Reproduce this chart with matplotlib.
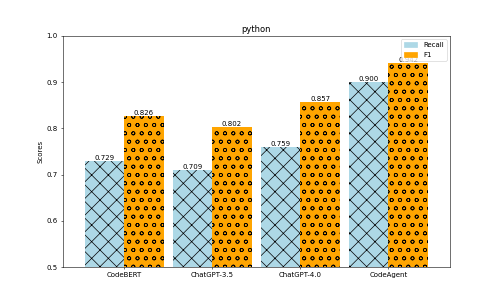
import matplotlib
matplotlib.use("Agg")
import matplotlib.pyplot as plt
import matplotlib.patches as mpatches
import numpy as np

models = ['CodeBERT', 'ChatGPT-3.5', 'ChatGPT-4.0', 'CodeAgent']
recall = [0.729, 0.709, 0.759, 0.900]
f1 = [0.826, 0.802, 0.857, 0.942]

x = np.arange(len(models))
width = 0.45

fig, ax = plt.subplots(figsize=(10, 6), dpi=50)
b1 = ax.bar(x - width / 2, recall, width, color='lightblue',
            edgecolor='black', linewidth=0, hatch='x')
b2 = ax.bar(x + width / 2, f1, width, color='orange',
            edgecolor='black', linewidth=0, hatch='o')

for bars in (b1, b2):
    for bar in bars:
        h = bar.get_height()
        ax.text(bar.get_x() + bar.get_width() / 2, h, f'{h:.3f}',
                ha='center', va='bottom', fontsize=10)

ax.set_ylabel('Scores')
ax.set_title('python')
ax.set_xticks(x)
ax.set_xticklabels(models)
ax.set_ylim(0.5, 1.0)
ax.set_xlim(-0.7, 3.7)

# legend with plain colour patches
handles = [mpatches.Patch(color='lightblue', label='Recall'),
           mpatches.Patch(color='orange', label='F1')]
ax.legend(handles=handles, loc='upper right')

plt.savefig('out.png', dpi=50)
